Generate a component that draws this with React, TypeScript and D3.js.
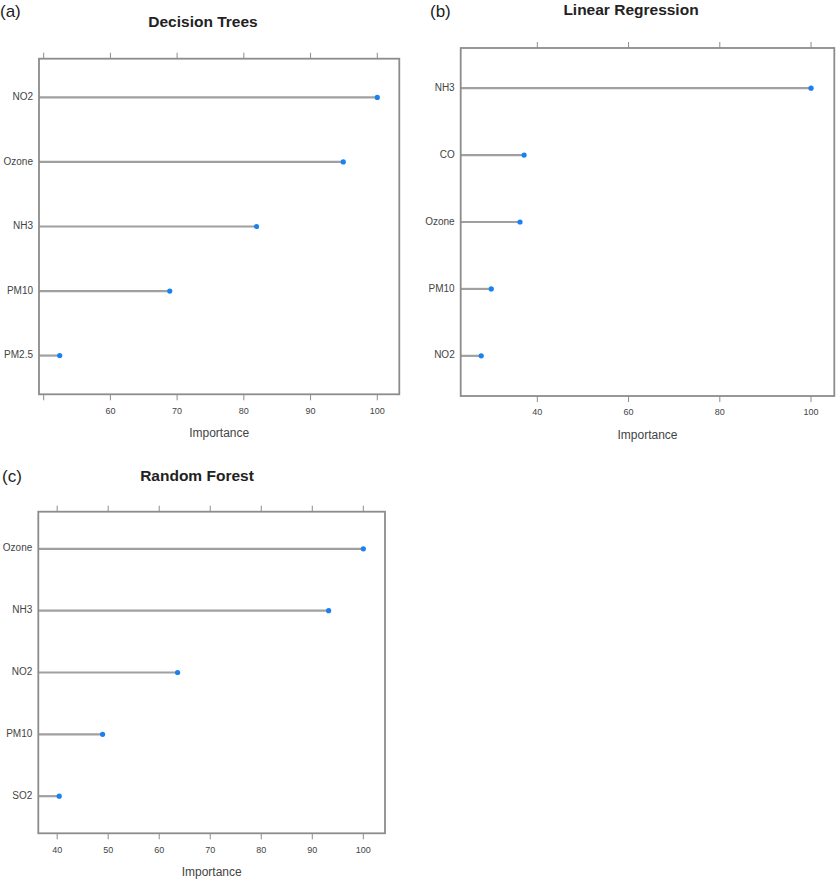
import React from "react";
import * as d3 from "d3";

// ---- Data ----
const dtCategories = ["NO2", "Ozone", "NH3", "PM10", "PM2.5"];
const dtValues = [100, 94.9, 81.9, 68.9, 52.4];
const dtTicks = [50, 60, 70, 80, 90, 100];
const dtTickLabels = ["", "60", "70", "80", "90", "100"];
const dtDomain = [49.3, 103.3];

const lrCategories = ["NH3", "CO", "Ozone", "PM10", "NO2"];
const lrValues = [100, 37.1, 36.2, 29.9, 27.7];
const lrTicks = [40, 60, 80, 100];
const lrTickLabels = ["40", "60", "80", "100"];
const lrDomain = [23.2, 105.1];

const rfCategories = ["Ozone", "NH3", "NO2", "PM10", "SO2"];
const rfValues = [100, 93.2, 63.6, 48.9, 40.4];
const rfTicks = [40, 50, 60, 70, 80, 90, 100];
const rfTickLabels = ["40", "50", "60", "70", "80", "90", "100"];
const rfDomain = [36.3, 104.25];

const FONT = "'Liberation Sans', Arial, sans-serif";

type PanelProps = {
  letter: string;
  letterX: number;
  letterY: number;
  title: string;
  titleX: number;
  titleY: number;
  categories: string[];
  values: number[];
  ticks: number[];
  tickLabels: string[];
  domain: number[];
  x0: number;
  x1: number;
  y0: number;
  y1: number;
};

function Panel(p: PanelProps) {
  const x = d3.scaleLinear().domain(p.domain).range([p.x0, p.x1]);
  const y = d3.scalePoint<string>().domain(p.categories).range([p.y0, p.y1]).padding(0.6);
  const tickLen = 6;
  return (
    <g>
      <text x={p.letterX} y={p.letterY} fontSize={17} fontFamily={FONT} fill="#222" dominantBaseline="middle">
        {p.letter}
      </text>
      <text x={p.titleX} y={p.titleY} fontSize={15.5} fontWeight="bold" fontFamily={FONT} fill="#222" textAnchor="middle" dominantBaseline="middle">
        {p.title}
      </text>
      {p.categories.map((c, i) => (
        <g key={c}>
          <line x1={p.x0} x2={x(p.values[i])} y1={y(c)} y2={y(c)} stroke="#a0a0a0" strokeWidth={2.2} />
          <circle cx={x(p.values[i])} cy={y(c)} r={2.6} fill="#1a82f0" />
          <text x={p.x0 - 6} y={y(c)} fontSize={10} fontFamily={FONT} fill="#444" textAnchor="end" dominantBaseline="middle">
            {c}
          </text>
        </g>
      ))}
      <rect x={p.x0} y={p.y0} width={p.x1 - p.x0} height={p.y1 - p.y0} fill="none" stroke="#8c8c8c" strokeWidth={1.8} />
      {p.ticks.map((t, i) => (
        <g key={t}>
          <line x1={x(t)} x2={x(t)} y1={p.y0} y2={p.y0 - tickLen} stroke="#8c8c8c" strokeWidth={1} />
          <line x1={x(t)} x2={x(t)} y1={p.y1} y2={p.y1 + tickLen} stroke="#8c8c8c" strokeWidth={1} />
          <text x={x(t)} y={p.y1 + 17} fontSize={9} fontFamily={FONT} fill="#444" textAnchor="middle" dominantBaseline="middle">
            {p.tickLabels[i]}
          </text>
        </g>
      ))}
      <text x={(p.x0 + p.x1) / 2} y={p.y1 + 40} fontSize={12} fontFamily={FONT} fill="#444" textAnchor="middle" dominantBaseline="middle">
        Importance
      </text>
    </g>
  );
}

export default function App() {
  return (
    <svg width={837} height={880} style={{ position: "absolute", left: 0, top: 0, background: "#fff" }}>
      <Panel
        letter="(a)" letterX={0} letterY={13}
        title="Decision Trees" titleX={203} titleY={23}
        categories={dtCategories} values={dtValues}
        ticks={dtTicks} tickLabels={dtTickLabels} domain={dtDomain}
        x0={39} x1={399.3} y0={58.7} y1={394.3}
      />
      <Panel
        letter="(b)" letterX={430} letterY={13}
        title="Linear Regression" titleX={631} titleY={11}
        categories={lrCategories} values={lrValues}
        ticks={lrTicks} tickLabels={lrTickLabels} domain={lrDomain}
        x0={460.7} x1={834.3} y0={48} y1={396}
      />
      <Panel
        letter="(c)" letterX={2} letterY={478}
        title="Random Forest" titleX={197} titleY={477}
        categories={rfCategories} values={rfValues}
        ticks={rfTicks} tickLabels={rfTickLabels} domain={rfDomain}
        x0={38.3} x1={385} y0={511.7} y1={833.3}
      />
    </svg>
  );
}
